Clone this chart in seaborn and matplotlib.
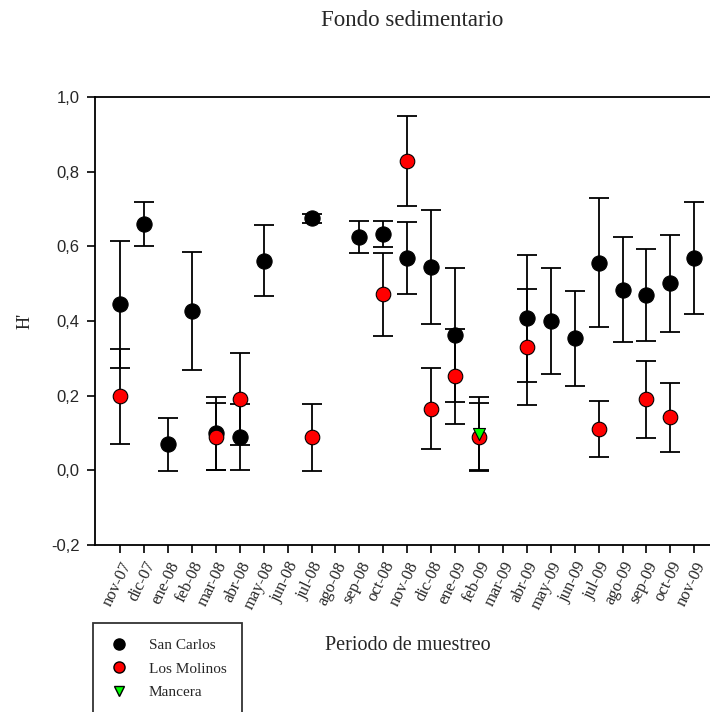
import numpy as np
import pandas as pd
import matplotlib
matplotlib.use("Agg")
import matplotlib.pyplot as plt
import seaborn as sns
from matplotlib.lines import Line2D
from matplotlib.ticker import FuncFormatter

months = ["nov-07", "dic-07", "ene-08", "feb-08", "mar-08", "abr-08", "may-08",
          "jun-08", "jul-08", "ago-08", "sep-08", "oct-08", "nov-08", "dic-08",
          "ene-09", "feb-09", "mar-09", "abr-09", "may-09", "jun-09", "jul-09",
          "ago-09", "sep-09", "oct-09", "nov-09"]

nan = np.nan
san_carlos = [0.445, 0.660, 0.070, 0.426, 0.099, 0.089, 0.562, nan, 0.675, nan,
              0.624, 0.634, 0.569, 0.544, 0.363, nan, nan, 0.407, 0.400, 0.354,
              0.556, 0.484, 0.470, 0.501, 0.568]
san_carlos_err = [0.170, 0.060, 0.071, 0.158, 0.098, 0.089, 0.095, nan, 0.012, nan,
                  0.043, 0.035, 0.096, 0.152, 0.180, nan, nan, 0.170, 0.143, 0.127,
                  0.173, 0.141, 0.123, 0.130, 0.150]
los_molinos = [0.198, nan, nan, nan, 0.090, 0.190, nan, nan, 0.089, nan,
               nan, 0.472, 0.828, 0.165, 0.252, 0.090, nan, 0.330, nan, nan,
               0.111, nan, 0.190, 0.142, nan]
los_molinos_err = [0.128, nan, nan, nan, 0.090, 0.123, nan, nan, 0.090, nan,
                   nan, 0.111, 0.120, 0.108, 0.127, 0.090, nan, 0.155, nan, nan,
                   0.076, nan, 0.104, 0.092, nan]
mancera = [nan] * 15 + [0.098] + [nan] * 9
mancera_err = [nan] * 15 + [0.099] + [nan] * 9

sites = ["San Carlos", "Los Molinos", "Mancera"]

rows = []
for site, vals, errs in [("San Carlos", san_carlos, san_carlos_err),
                         ("Los Molinos", los_molinos, los_molinos_err),
                         ("Mancera", mancera, mancera_err)]:
    for i, (m, v, e) in enumerate(zip(months, vals, errs)):
        if not np.isnan(v):
            rows.append({"pos": i, "mes": m, "sitio": site, "H": v, "err": e})
df = pd.DataFrame(rows)

sns.set_style("ticks")
serif = ["Liberation Serif", "DejaVu Serif"]
sans = ["Liberation Sans", "DejaVu Sans"]

fig = plt.figure(figsize=(7.10, 7.12), dpi=100)
ax = fig.add_axes([95 / 710, 1 - 545 / 712, 640 / 710, 448 / 712])

styles = {
    "San Carlos": dict(color="black", marker="o", s=120, zorder=3),
    "Los Molinos": dict(color="#ff0000", marker="o", s=110, zorder=4),
    "Mancera": dict(color="#00ff00", marker="v", s=75, zorder=5),
}

for site in sites:
    d = df[df["sitio"] == site]
    ax.errorbar(d["pos"], d["H"], yerr=d["err"], fmt="none", ecolor="black",
                elinewidth=1.3, capsize=7, capthick=1.3, zorder=2)
for site in sites:
    d = df[df["sitio"] == site]
    st = styles[site]
    sns.scatterplot(data=d, x="pos", y="H", ax=ax, color=st["color"],
                    marker=st["marker"], s=st["s"], edgecolor="black",
                    linewidth=0.8, zorder=st["zorder"], legend=False)

ax.set_xlim(-1.05, 25.7)
ax.set_ylim(-0.2, 1.0)
ax.set_xticks(range(len(months)))
ax.set_xticklabels(months, rotation=64, ha="right", rotation_mode="anchor",
                   family=serif, fontsize=12)
ax.set_yticks(np.arange(-0.2, 1.01, 0.2))
ax.yaxis.set_major_formatter(FuncFormatter(lambda v, p: f"{v:.1f}".replace(".", ",")))
for lab in ax.get_yticklabels():
    lab.set_family(sans)
    lab.set_fontsize(12)
ax.tick_params(axis="both", direction="out", length=6, width=1.2, color="black")
ax.tick_params(axis="x", pad=4)
ax.tick_params(axis="y", pad=5)
for sp in ax.spines.values():
    sp.set_linewidth(1.3)
    sp.set_color("black")

ax.set_xlabel("")
ax.set_ylabel("H'", family=serif, fontsize=13, va="center")
ax.yaxis.set_label_coords((25 - 95) / 640, 0.5)
fig.text(408 / 710, 1 - 645 / 712, "Periodo de muestreo", family=serif,
         fontsize=14.5, ha="center", va="center")
fig.text(412 / 710, 1 - 20 / 712, "Fondo sedimentario", family=serif,
         fontsize=16.5, ha="center", va="center")

handles = [
    Line2D([], [], linestyle="none", marker="o", markersize=8,
           markerfacecolor="black", markeredgecolor="black"),
    Line2D([], [], linestyle="none", marker="o", markersize=8,
           markerfacecolor="#ff0000", markeredgecolor="black"),
    Line2D([], [], linestyle="none", marker="v", markersize=7,
           markerfacecolor="#00ff00", markeredgecolor="black"),
]
leg = fig.legend(handles, sites, loc="upper left",
                 bbox_to_anchor=(93 / 710, 1 - 623 / 712),
                 frameon=True, fancybox=False, edgecolor="black",
                 prop={"family": serif, "size": 11}, handletextpad=1.2,
                 borderpad=1.0, labelspacing=0.65, handlelength=1.45,
                 borderaxespad=0)
leg.get_frame().set_linewidth(1.3)

fig.savefig("out.png", dpi=100)
